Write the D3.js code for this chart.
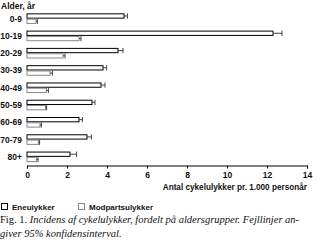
<!DOCTYPE html>
<meta charset="utf-8">
<style>
body { margin: 0; background: #fff; }
text { font-family: "Liberation Sans", Arial, sans-serif; }
.lbl { font-size: 8.5px; font-weight: bold; fill: #111; }
.cap { font-family: "Liberation Serif", "DejaVu Serif", serif; font-size: 10.5px; fill: #111; }
</style>
<body>
<svg width="323" height="247"></svg>
<script src="https://d3js.org/d3.v7.min.js"></script>
<script>

var groups = ["0-9","10-19","20-29","30-39","40-49","50-59","60-69","70-79","80+"];
var ene = [4.85, 12.3, 4.55, 3.8, 3.7, 3.25, 2.6, 3.0, 2.15];
var eneErr = [0.17, 0.45, 0.25, 0.18, 0.2, 0.15, 0.17, 0.22, 0.33];
var modpart = [0.45, 2.6, 1.8, 1.15, 0.97, 0.92, 0.65, 0.57, 0.47];
var modpartErr = [0.07, 0.1, 0.1, 0.12, 0.1, 0.06, 0.07, 0.06, 0.08];
var ticks = [0,2,4,6,8,10,12,14];

var svg = d3.select("svg");

var x = d3.scaleLinear().domain([0,14]).range([27,307]);
var y = d3.scaleBand().domain(groups).range([10,165.5]);

var bh = 4.3;

var series = [
	{vals: ene, err: eneErr, off: 0, stroke: "#000"},
	{vals: modpart, err: modpartErr, off: bh+1, stroke: "#888"}
];

series.forEach(function(s){
	var top = function(d,i){ return y(groups[i]) + y.bandwidth()/2 - bh - 0.5 + s.off; };
	svg.append("g").selectAll("rect")
		.data(s.vals)
		.enter().append("rect")
		.attr("x", x(0))
		.attr("y", top)
		.attr("width", function(d){ return x(d)-x(0); })
		.attr("height", bh)
		.attr("fill","#fff")
		.attr("stroke", s.stroke)
		.attr("stroke-width", 1);

	var eb = svg.append("g").selectAll("g")
		.data(s.vals)
		.enter().append("g");
	eb.append("line")
		.attr("x1", function(d){ return x(d); })
		.attr("x2", function(d,i){ return x(d+s.err[i]); })
		.attr("y1", function(d,i){ return top(d,i)+bh/2; })
		.attr("y2", function(d,i){ return top(d,i)+bh/2; })
		.attr("stroke", "#444");
	eb.append("line")
		.attr("x1", function(d,i){ return x(d+s.err[i]); })
		.attr("x2", function(d,i){ return x(d+s.err[i]); })
		.attr("y1", function(d,i){ return top(d,i)-0.5; })
		.attr("y2", function(d,i){ return top(d,i)+bh+0.5; })
		.attr("stroke", "#444");
});

// group labels
svg.append("g").selectAll("text")
	.data(groups)
	.enter().append("text")
	.attr("class","lbl")
	.attr("x", 22)
	.attr("y", function(d){ return y(d)+y.bandwidth()/2+3; })
	.attr("text-anchor","end")
	.text(function(d){ return d; });

svg.append("text").attr("class","lbl")
	.attr("x", 1).attr("y", 9).text("Alder, år");

// x axis
var xAxis = d3.axisBottom(x).tickValues(ticks).tickSize(3).tickPadding(3);
var ax = svg.append("g")
	.attr("transform","translate(0,165.5)")
	.call(xAxis);
ax.select(".domain").attr("stroke","#000");
ax.selectAll("text").attr("class","lbl").style("font-size","8.5px");

svg.append("text").attr("class","lbl")
	.attr("x", 307).attr("y", 190)
	.attr("text-anchor","end")
	.style("font-size","8.2px")
	.text("Antal cykelulykker pr. 1.000 personår");

// legend
var legend = [["Eneulykker","#000",1.5,12],["Modpartsulykker","#888",78.5,89]];
legend.forEach(function(l){
	svg.append("rect")
		.attr("x", l[2]).attr("y", 203.5)
		.attr("width", 6).attr("height", 6)
		.attr("fill","#fff").attr("stroke", l[1]);
	svg.append("text").attr("class","lbl")
		.attr("x", l[3]).attr("y", 210)
		.style("font-size","8px")
		.text(l[0]);
});

// caption
var c1 = svg.append("text").attr("class","cap").attr("x",0).attr("y",223);
c1.append("tspan").text("Fig. 1. ");
c1.append("tspan").style("font-style","italic")
	.text("Incidens af cykelulykker, fordelt på aldersgrupper. Fejllinjer an-");
svg.append("text").attr("class","cap").attr("x",0).attr("y",237)
	.style("font-style","italic")
	.text("giver 95% konfidensinterval.");

</script>
</body>
</html>
